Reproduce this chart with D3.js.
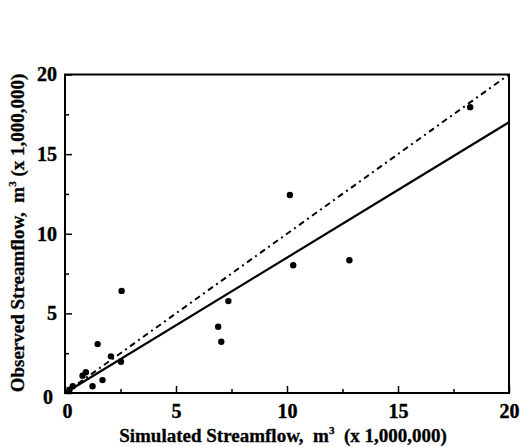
<!DOCTYPE html>
<html><head><meta charset="utf-8">
<script src="https://cdn.jsdelivr.net/npm/d3@7"></script>
<style>body{margin:0;background:#fff}svg{display:block}</style>
</head><body>
<script>
const simulated = [18.25, 10.13, 10.28, 12.81, 7.36, 6.90, 7.04, 2.55, 1.47, 2.07, 2.52, 0.94, 0.79, 1.69, 1.24, 0.35, 0.20];
const observed  = [17.95, 12.43, 8.02, 8.34, 5.77, 4.16, 3.22, 6.41, 3.07, 2.30, 1.96, 1.30, 1.09, 0.81, 0.42, 0.42, 0.20];
const regression = [[0, 0], [20, 17.0]];
const oneToOne = [[0, 0], [20, 20]];
const majorTicks = [0, 5, 10, 15, 20];
const minorTicks = [2.5, 7.5, 12.5, 17.5];
const xTitle = "Simulated Streamflow,";
const yTitle = "Observed Streamflow,";

const W = 521, H = 447;
const svg = d3.select("body").append("svg").attr("width", W).attr("height", H);
const x = d3.scaleLinear().domain([0, 20]).range([65, 509]);
const y = d3.scaleLinear().domain([0, 20]).range([393, 74.5]);
const font = "'Liberation Serif','Times New Roman',serif";

// frame
svg.append("rect").attr("x", x(0)).attr("y", y(20)).attr("width", x(20) - x(0)).attr("height", y(0) - y(20))
  .attr("fill", "none").attr("stroke", "#000").attr("stroke-width", 2);

// axes with inward ticks
const xAxis = svg.append("g").attr("transform", `translate(0,${y(0)})`)
  .call(d3.axisBottom(x).tickValues(majorTicks).tickSize(-7).tickPadding(14).tickFormat(d3.format("d")));
const xMinor = svg.append("g").attr("transform", `translate(0,${y(0)})`)
  .call(d3.axisBottom(x).tickValues(minorTicks).tickSize(-4).tickFormat(""));
const yAxis = svg.append("g").attr("transform", `translate(${x(0)},0)`)
  .call(d3.axisLeft(y).tickValues(majorTicks).tickSize(-7).tickPadding(14).tickFormat(d3.format("d")));
const yMinor = svg.append("g").attr("transform", `translate(${x(0)},0)`)
  .call(d3.axisLeft(y).tickValues(minorTicks).tickSize(-4).tickFormat(""));
[xAxis, xMinor, yAxis, yMinor].forEach(g => {
  g.select(".domain").remove();
  g.attr("font-family", font).attr("font-size", 20).attr("font-weight", "bold");
  g.selectAll("line").attr("stroke", "#000").attr("stroke-width", 1.5);
  g.selectAll("text").attr("fill", "#000").attr("font-weight", "bold").attr("stroke", "#000").attr("stroke-width", 0.4);
});
xAxis.selectAll("text").attr("dy", "0.71em").attr("transform", "translate(0,-3)");
xAxis.selectAll(".tick").filter(d => d === 0).select("text").attr("dx", 2);
yAxis.selectAll("text").attr("dx", 6);
yAxis.selectAll(".tick").filter(d => d === 0).select("text").attr("dx", 2).attr("dy", "0.5em");

// lines
const line = d3.line().x(d => x(d[0])).y(d => y(d[1]));
svg.append("path").datum(oneToOne).attr("d", line).attr("fill", "none").attr("stroke", "#000")
  .attr("stroke-width", 2).attr("stroke-dasharray", "6,4,2,4");
svg.append("path").datum(regression).attr("d", line).attr("fill", "none").attr("stroke", "#000")
  .attr("stroke-width", 2.2);

// points
svg.append("g").selectAll("circle").data(simulated).join("circle")
  .attr("cx", d => x(d)).attr("cy", (d, i) => y(observed[i])).attr("r", 3.2).attr("fill", "#000");

// titles
function title(sel) {
  sel.attr("font-family", font).attr("font-weight", "bold").attr("font-size", 19).attr("fill", "#000")
    .attr("stroke", "#000").attr("stroke-width", 0.3);
}
const xt = svg.append("text").attr("x", 283).attr("y", 442).attr("text-anchor", "middle").call(title);
xt.append("tspan").text(xTitle + "\u00a0\u00a0m");
xt.append("tspan").attr("dy", -8).attr("font-size", 11).text("3");
xt.append("tspan").attr("dy", 8).text("\u00a0\u00a0(x 1,000,000)");

const yt = svg.append("text").attr("transform", "translate(24,233) rotate(-90)").attr("text-anchor", "middle").call(title);
yt.append("tspan").text(yTitle + "\u00a0\u00a0m");
yt.append("tspan").attr("dy", -8).attr("font-size", 11).text("3");
yt.append("tspan").attr("dy", 8).text("\u00a0(x 1,000,000)");
</script>
</body></html>
